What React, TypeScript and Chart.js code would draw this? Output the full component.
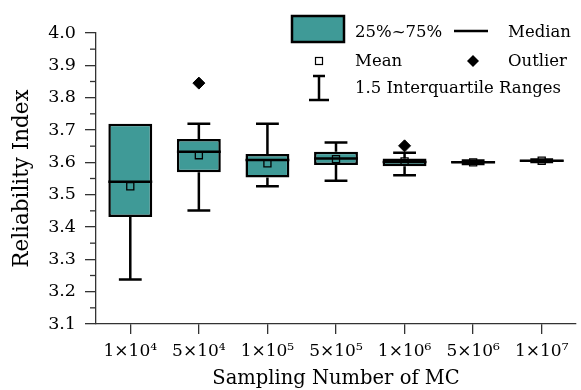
import React, { useEffect, useRef } from 'react';
import { Chart, registerables } from 'chart.js';

Chart.register(...registerables);

// ---- data ----
const categories = ['1×10⁴', '5×10⁴', '1×10⁵', '5×10⁵', '1×10⁶', '5×10⁶', '1×10⁷'];
const q1 = [3.431, 3.569, 3.553, 3.592, 3.588, 3.597, 3.602];
const q3 = [3.719, 3.672, 3.626, 3.633, 3.612, 3.604, 3.608];
const medians = [3.540, 3.633, 3.607, 3.612, 3.601, 3.600, 3.605];
const means = [3.526, 3.622, 3.597, 3.610, 3.603, 3.600, 3.605];
const whiskerLow = [3.238, 3.451, 3.526, 3.543, 3.560, 3.595, 3.601];
const whiskerHigh = [3.719, 3.719, 3.719, 3.661, 3.630, 3.606, 3.609];
const outliers: (number | null)[] = [null, 3.845, null, null, 3.651, null, null];
const yTicksMinor = [3.15, 3.25, 3.35, 3.45, 3.55, 3.65, 3.75, 3.85, 3.95];

const FONT = "'DejaVu Serif', serif";
const TEAL = '#3F9A97';
const AXIS = '#333333';
const LW = 2.5;

export default function App() {
  const ref = useRef<HTMLCanvasElement>(null);

  useEffect(() => {
    const canvas = ref.current;
    if (!canvas) return;

    const boxPlugin = {
      id: 'boxExtras',
      beforeDatasetsDraw(chart: any) {
        const { ctx, scales } = chart;
        const xs = scales.x, ys = scales.y;
        const meta = chart.getDatasetMeta(0);
        ctx.save();
        ctx.strokeStyle = '#000';
        ctx.lineWidth = LW;
        categories.forEach((_, i) => {
          const x = xs.getPixelForValue(i);
          const bw = meta.data[i].width;
          const half = bw * 0.26;
          const yl = ys.getPixelForValue(whiskerLow[i]);
          const yh = ys.getPixelForValue(whiskerHigh[i]);
          const yq1 = ys.getPixelForValue(q1[i]);
          const yq3 = ys.getPixelForValue(q3[i]);
          ctx.beginPath();
          if (whiskerLow[i] < q1[i]) {
            ctx.moveTo(x, yl); ctx.lineTo(x, yq1);
            ctx.moveTo(x - half, yl); ctx.lineTo(x + half, yl);
          }
          if (whiskerHigh[i] > q3[i]) {
            ctx.moveTo(x, yq3); ctx.lineTo(x, yh);
            ctx.moveTo(x - half, yh); ctx.lineTo(x + half, yh);
          }
          ctx.stroke();
        });
        ctx.restore();
      },
      afterDatasetDraw(chart: any, args: any) {
        if (args.index !== 0) return;
        const { ctx, scales } = chart;
        const meta = chart.getDatasetMeta(0);
        ctx.save();
        ctx.strokeStyle = '#000';
        ctx.lineWidth = LW;
        categories.forEach((_, i) => {
          const x = scales.x.getPixelForValue(i);
          const bw = meta.data[i].width;
          const y = scales.y.getPixelForValue(medians[i]);
          ctx.beginPath();
          ctx.moveTo(x - bw / 2, y); ctx.lineTo(x + bw / 2, y);
          ctx.stroke();
        });
        ctx.restore();
      },
      afterDraw(chart: any) {
        const { ctx, scales, chartArea } = chart;
        ctx.save();
        // minor ticks
        ctx.strokeStyle = AXIS;
        ctx.lineWidth = 1.3;
        yTicksMinor.forEach((v) => {
          const y = scales.y.getPixelForValue(v);
          ctx.beginPath();
          ctx.moveTo(chartArea.left - 6, y); ctx.lineTo(chartArea.left, y);
          ctx.stroke();
        });
        // legend
        ctx.fillStyle = TEAL;
        ctx.fillRect(292, 16, 52, 26);
        ctx.strokeStyle = '#000';
        ctx.lineWidth = LW;
        ctx.strokeRect(292, 16, 52, 26);
        ctx.beginPath();
        ctx.moveTo(454, 31); ctx.lineTo(488, 31);
        ctx.stroke();
        // mean marker
        ctx.fillStyle = '#fff';
        ctx.lineWidth = 1.2;
        ctx.fillRect(315.5, 57.5, 7, 7);
        ctx.strokeRect(315.5, 57.5, 7, 7);
        // outlier diamond
        ctx.fillStyle = '#000';
        ctx.beginPath();
        ctx.moveTo(473, 55); ctx.lineTo(479, 61); ctx.lineTo(473, 67); ctx.lineTo(467, 61);
        ctx.closePath();
        ctx.fill();
        // I-beam
        ctx.lineWidth = LW;
        ctx.beginPath();
        ctx.moveTo(319, 76); ctx.lineTo(319, 100);
        ctx.moveTo(313, 76); ctx.lineTo(325, 76);
        ctx.moveTo(309, 100); ctx.lineTo(329, 100);
        ctx.stroke();
        // text
        ctx.fillStyle = '#000';
        ctx.font = `16.5px ${FONT}`;
        ctx.textBaseline = 'alphabetic';
        ctx.textAlign = 'left';
        ctx.fillText('25%~75%', 355, 37);
        ctx.fillText('Median', 508, 37);
        ctx.fillText('Mean', 355, 66);
        ctx.fillText('Outlier', 508, 66);
        ctx.fillText('1.5 Interquartile Ranges', 355, 93);
        ctx.restore();
      },
    };

    const chart = new Chart(canvas, {
      type: 'bar',
      data: {
        labels: categories,
        datasets: [
          {
            type: 'bar',
            label: '25%~75%',
            data: q1.map((v, i) => [v, q3[i]]) as any,
            backgroundColor: TEAL,
            borderColor: '#000',
            borderWidth: LW,
            borderSkipped: false,
            categoryPercentage: 1,
            barPercentage: 0.64,
            order: 3,
          } as any,
          {
            type: 'line',
            label: 'Mean',
            data: means,
            showLine: false,
            pointStyle: 'rect',
            pointRadius: 5,
            pointBackgroundColor: 'rgba(0,0,0,0)',
            pointBorderColor: '#000',
            pointBorderWidth: 1.3,
            order: 1,
          } as any,
          {
            type: 'line',
            label: 'Outlier',
            data: outliers,
            showLine: false,
            pointStyle: 'rectRot',
            pointRadius: 6,
            pointBackgroundColor: '#000',
            pointBorderColor: '#000',
            pointBorderWidth: 1,
            order: 1,
          } as any,
        ],
      },
      options: {
        animation: false,
        responsive: false,
        devicePixelRatio: 1,
        layout: { padding: { top: 33, right: 0, left: 0, bottom: 0 } },
        plugins: { legend: { display: false }, tooltip: { enabled: false } },
        scales: {
          x: {
            offset: true,
            grid: { display: true, drawOnChartArea: false, offset: false, tickLength: 10, color: AXIS, lineWidth: 1.3 },
            border: { display: true, color: AXIS, width: 1.3 },
            ticks: { font: { family: FONT, size: 17 }, color: '#000', padding: 7, maxRotation: 0, autoSkip: false },
            title: { display: true, text: 'Sampling Number of MC', font: { family: FONT, size: 19.5 }, color: '#000', padding: { top: 0, bottom: -1 } },
            afterFit: (s: any) => { s.height = 66; },
          },
          y: {
            min: 3.1,
            max: 4.0,
            grid: { display: true, drawOnChartArea: false, tickLength: 11, color: AXIS, lineWidth: 1.3 },
            border: { display: true, color: AXIS, width: 1.3 },
            ticks: {
              stepSize: 0.1,
              font: { family: FONT, size: 17.5 },
              color: '#000',
              padding: 9,
              callback: (v: any) => Number(v).toFixed(1),
            },
            title: { display: true, text: 'Reliability Index', font: { family: FONT, size: 21.5 }, color: '#000', padding: { top: 10, bottom: 0 } },
            afterFit: (s: any) => { s.width = 96; },
          },
        },
      } as any,
      plugins: [boxPlugin],
    });

    return () => chart.destroy();
  }, []);

  return (
    <div style={{ position: 'fixed', left: 0, top: 0, width: 581, height: 390, overflow: 'hidden', background: '#fff' }}>
      <canvas ref={ref} width={583} height={390} style={{ display: 'block' }} />
    </div>
  );
}
